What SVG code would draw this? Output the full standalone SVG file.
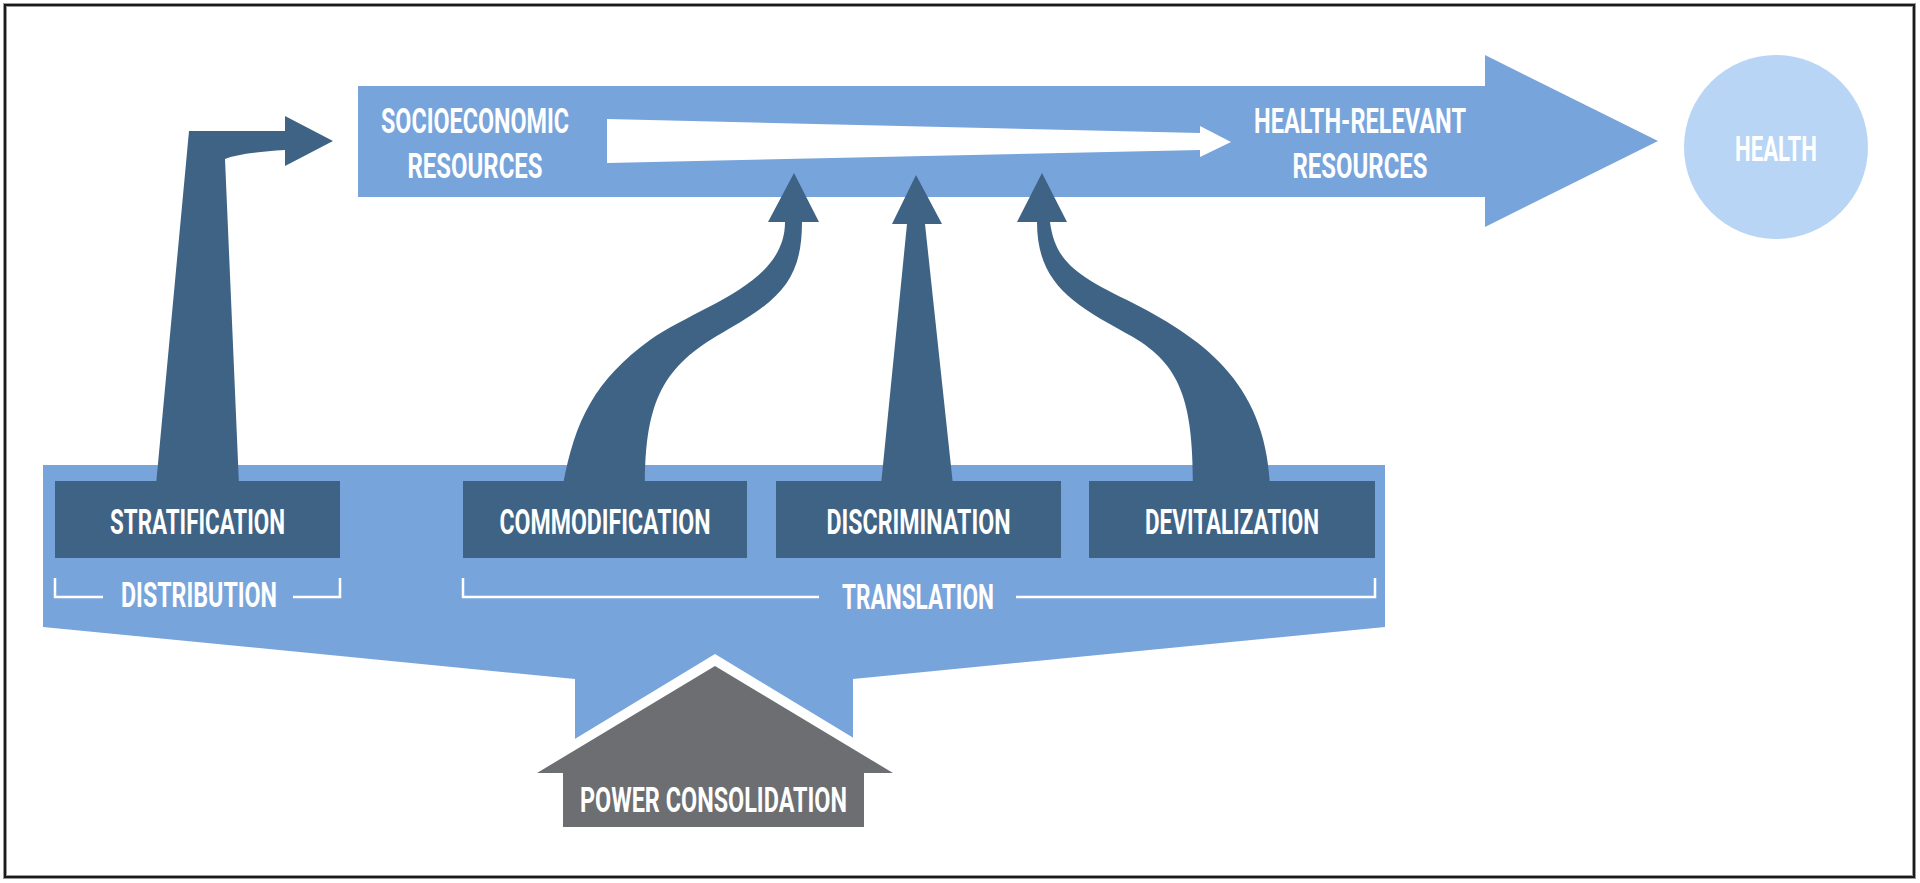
<svg xmlns="http://www.w3.org/2000/svg" width="1920" height="883" viewBox="0 0 1920 883">
  <style>
    .light { fill: #78a4dc; }
    .dark { fill: #3e6385; }
    .lbl { font-family: Roboto, "Liberation Sans", sans-serif; font-weight: 700; font-size: 35px; fill: #ffffff; text-anchor: middle; }
    .brk { fill: none; stroke: #ffffff; stroke-width: 2.5; }
  </style>
  <rect x="0" y="0" width="1920" height="883" fill="#ffffff"/>
  <rect x="5" y="5" width="1909" height="872" fill="none" stroke="#9a9a9a" stroke-width="4"/>
  <rect x="5" y="5" width="1909" height="872" fill="none" stroke="#1a1a1a" stroke-width="2"/>

  <g id="main-flow">
    <polygon class="light" points="358,86 1485,86 1485,55 1658,141 1485,227 1485,197 358,197"/>
    <polygon fill="#ffffff" points="607,119 1200,133 1200,126 1231,142 1200,157 1200,150 607,163"/>
    <text class="lbl" x="475" y="133" textLength="188" lengthAdjust="spacingAndGlyphs">SOCIOECONOMIC</text>
    <text class="lbl" x="475" y="178" textLength="135" lengthAdjust="spacingAndGlyphs">RESOURCES</text>
    <text class="lbl" x="1360" y="133" textLength="212" lengthAdjust="spacingAndGlyphs">HEALTH-RELEVANT</text>
    <text class="lbl" x="1360" y="178" textLength="135" lengthAdjust="spacingAndGlyphs">RESOURCES</text>
  </g>

  <g id="health">
    <circle cx="1776" cy="147" r="92" fill="#b8d5f5"/>
    <text class="lbl" x="1776" y="161" textLength="82" lengthAdjust="spacingAndGlyphs" fill="#f4f8fd">HEALTH</text>
  </g>

  <g id="power-base">
    <polygon class="light" points="43,465 1385,465 1385,627 853,679 853,760 575,760 575,679 43,627"/>
  </g>

  <g id="connectors">
    <path class="dark" d="M156,485 L189,131 L285,131 L285,116 L333,141 L285,166 L285,150 Q240,153 225,159 L239,485 Z"/>
    <path class="dark" d="M768,222 L794,173 L819,222 L802,222 C802,280 780,300 722,333 C664,366 645,400 645,485 L563,485 C575,420 595,380 650,340 C700,305 785,285 785,222 Z"/>
    <polygon class="dark" points="881,485 907,224 892,224 916,175 942,224 925,224 953,485"/>
    <path class="dark" d="M1017,222 L1042,173 L1067,222 L1050,222 C1055,260 1075,275 1127,300 C1200,337 1265,380 1270,485 L1193,485 C1193,400 1180,365 1133,337 C1075,305 1037,285 1037,222 Z"/>
  </g>

  <g id="stratification">
    <rect class="dark" x="55" y="481" width="285" height="77"/>
    <text class="lbl" x="197.5" y="534" textLength="175" lengthAdjust="spacingAndGlyphs">STRATIFICATION</text>
  </g>
  <g id="commodification">
    <rect class="dark" x="463" y="481" width="284" height="77"/>
    <text class="lbl" x="605" y="534" textLength="211" lengthAdjust="spacingAndGlyphs">COMMODIFICATION</text>
  </g>
  <g id="discrimination">
    <rect class="dark" x="776" y="481" width="285" height="77"/>
    <text class="lbl" x="918.5" y="534" textLength="184" lengthAdjust="spacingAndGlyphs">DISCRIMINATION</text>
  </g>
  <g id="devitalization">
    <rect class="dark" x="1089" y="481" width="286" height="77"/>
    <text class="lbl" x="1232" y="534" textLength="174" lengthAdjust="spacingAndGlyphs">DEVITALIZATION</text>
  </g>

  <g id="distribution">
    <polyline class="brk" points="55,578 55,597 103,597"/>
    <polyline class="brk" points="293,597 340,597 340,578"/>
    <text class="lbl" x="199" y="607" textLength="156" lengthAdjust="spacingAndGlyphs">DISTRIBUTION</text>
  </g>
  <g id="translation">
    <polyline class="brk" points="463,578 463,597 819,597"/>
    <polyline class="brk" points="1016,597 1375,597 1375,578"/>
    <text class="lbl" x="918" y="609" textLength="152" lengthAdjust="spacingAndGlyphs">TRANSLATION</text>
  </g>

  <g id="power-consolidation">
    <polygon fill="#ffffff" points="715,654 517,774 913,774"/>
    <polygon fill="#6d6e71" points="715,666 893,773 864,773 864,827 563,827 563,773 537,773"/>
    <text class="lbl" x="713.5" y="812" textLength="267" lengthAdjust="spacingAndGlyphs" fill="#f2f2f2">POWER CONSOLIDATION</text>
  </g>
</svg>
